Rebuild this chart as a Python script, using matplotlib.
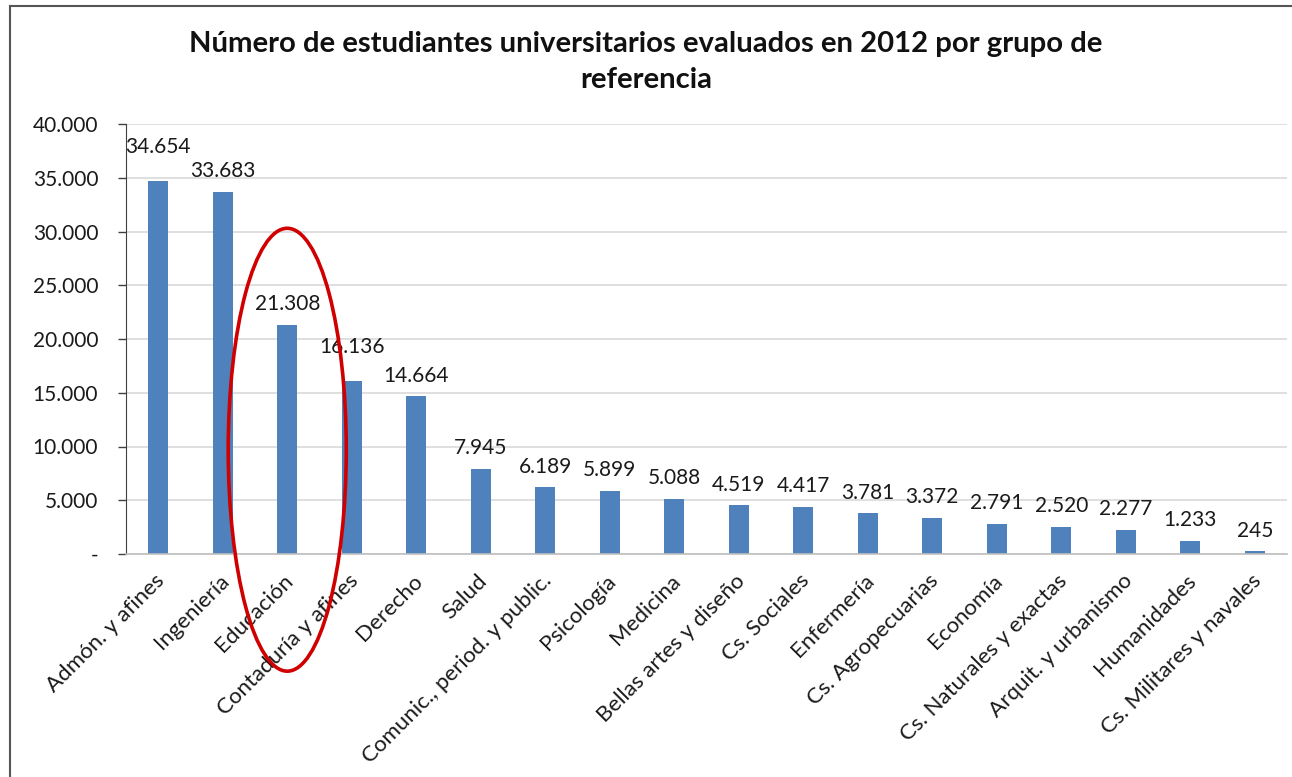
import numpy as np
import matplotlib
matplotlib.use("Agg")
import matplotlib.pyplot as plt
from matplotlib.patches import Ellipse
from matplotlib.lines import Line2D
from matplotlib.ticker import FuncFormatter
from matplotlib.transforms import ScaledTranslation

categories = [
    "Admón. y afines", "Ingeniería", "Educación", "Contaduría y afines",
    "Derecho", "Salud", "Comunic., period. y public.", "Psicología",
    "Medicina", "Bellas artes y diseño", "Cs. Sociales", "Enfermería",
    "Cs. Agropecuarias", "Economía", "Cs. Naturales y exactas",
    "Arquit. y urbanismo", "Humanidades", "Cs. Militares y navales",
]
students = [34654, 33683, 21308, 16136, 14664, 7945, 6189, 5899, 5088,
            4519, 4417, 3781, 3372, 2791, 2520, 2277, 1233, 245]
y_ticks = [0, 5000, 10000, 15000, 20000, 25000, 30000, 35000, 40000]
highlight = "Educación"

title = "Número de estudiantes universitarios evaluados en 2012 por grupo de\nreferencia"

plt.rcParams["font.family"] = ["Lato", "DejaVu Sans"]

W, H = 1292, 777
fig = plt.figure(figsize=(W / 100, H / 100), dpi=100)
ax = fig.add_axes([126 / W, 1 - 554 / H, (1287 - 126) / W, (554 - 124) / H])

bar_color = "#4F81BD"
x = np.arange(len(categories))
ax.bar(x, students, width=0.31, color=bar_color, zorder=2)


def thousands(v, pos=None):
    if v == 0:
        return "-"
    return f"{int(v):,}".replace(",", ".")


# value labels; a couple are pushed up a bit like in the source
nudge = {0: 10, 3: 9}
for i, v in enumerate(students):
    ax.annotate(thousands(v), (i, v), xytext=(0, 15 + nudge.get(i, 0)),
                textcoords="offset points", ha="center", va="center",
                fontsize=15, color="#1a1a1a")

ax.set_xlim(-0.5, len(categories) - 0.5)
ax.set_ylim(0, 40000)
ax.set_yticks(y_ticks)
ax.yaxis.set_major_formatter(FuncFormatter(thousands))
ax.grid(axis="y", color="#D9D9D9", lw=1.2, zorder=0)
ax.set_axisbelow(True)

for s in ["top", "right"]:
    ax.spines[s].set_visible(False)
ax.spines["left"].set_color("#404040")
ax.spines["bottom"].set_color("#BFBFBF")
ax.spines["bottom"].set_linewidth(1.2)

ax.tick_params(axis="y", length=6, width=1, color="#404040", pad=14,
               labelsize=15, labelcolor="#1a1a1a")
ax.tick_params(axis="x", length=0, pad=12)
ax.set_xticks(x)
ax.set_xticklabels(categories, rotation=45, ha="right", va="top",
                   rotation_mode="anchor", fontsize=16, color="#1a1a1a")
shift = ScaledTranslation(-4 / 100, 0, fig.dpi_scale_trans)
for lab in ax.get_xticklabels():
    lab.set_transform(lab.get_transform() + shift)

fig.text(0.5, 1 - 62 / H, title, ha="center", va="center", fontsize=21.1,
         fontweight="bold", color="#111111", linespacing=1.45)

# red ellipse around the highlighted bar
hi = categories.index(highlight)
ell = Ellipse((hi, 9700), width=1.83, height=41200, fill=False,
              edgecolor="#D00000", lw=2.6, clip_on=False, zorder=5)
ax.add_patch(ell)

# outer frame (only left and top edges visible in the source)
fig.add_artist(Line2D([10 / W, 10 / W], [0, 1 - 6 / H],
                      transform=fig.transFigure, color="#555555", lw=1.5))
fig.add_artist(Line2D([10 / W, 1], [1 - 6 / H, 1 - 6 / H],
                      transform=fig.transFigure, color="#555555", lw=1.5))

fig.savefig("out.png", dpi=100)
